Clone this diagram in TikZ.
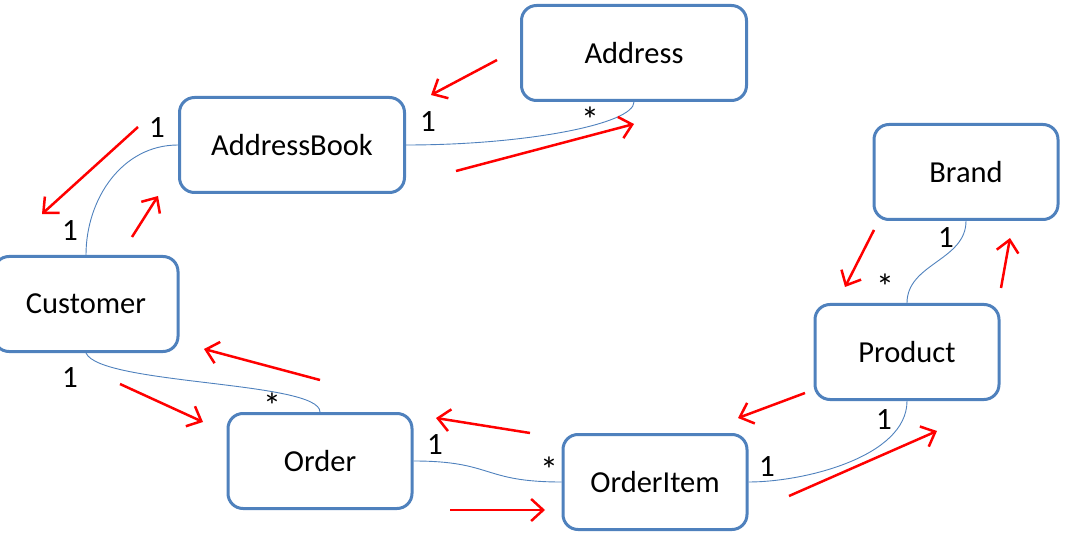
\documentclass[tikz,border=0pt]{standalone}
\usepackage{fontspec}
\setmainfont{Carlito}
\usetikzlibrary{arrows.meta}
\definecolor{boxblue}{RGB}{79,129,189}
\tikzset{
  entity/.style={draw=boxblue, line width=3pt, rounded corners=15pt, fill=white,
    minimum width=184pt, minimum height=95pt, font=\fontsize{30.5}{36}\selectfont},
  wide/.style={minimum width=225pt},
  assoc/.style={draw=boxblue, line width=0.9pt},
  mult/.style={font=\fontsize{31}{36}\selectfont, inner sep=0pt},
  star/.style={font=\fontsize{36}{40}\selectfont, inner sep=0pt},
  flow/.style={draw=red, line width=2.5pt, -{Straight Barb[length=12pt,width=22pt]}}
}
\begin{document}
\begin{tikzpicture}[x=1pt,y=1pt]
\useasboundingbox (0,0) rectangle (1069,-556);
% classes
\node[entity,wide] (address) at (634,-53) {Address};
\node[entity,wide] (addrbook) at (292,-145) {AddressBook};
\node[entity] (brand) at (966,-172) {Brand};
\node[entity] (customer) at (86,-304) {Customer};
\node[entity] (order) at (320,-461) {Order};
\node[entity] (orderitem) at (655,-482) {OrderItem};
\node[entity] (product) at (907,-352) {Product};
% associations
\draw[assoc] (addrbook.west) to[out=180,in=90] (customer.north);
\draw[assoc] (addrbook.east) .. controls +(120,0) and +(0,-22) .. (address.south);
\draw[assoc] (customer.south) .. controls +(14,-32) and +(0,31) .. (order.north);
\draw[assoc] (order.east) .. controls +(80,0) and +(-80,0) .. (orderitem.west);
\draw[assoc] (orderitem.east) to[out=0,in=-90,looseness=0.8] (product.south);
\draw[assoc] (product.north) to[out=90,in=-90] (brand.south);
% multiplicities
\node[mult] (lab1) at (157,-128) {1};
\node[mult] (lab2) at (70,-231) {1};
\node[mult] (lab3) at (428,-122) {1};
\node[star] (lab4) at (590,-120) {*};
\node[mult] (lab5) at (70,-378) {1};
\node[star] (lab6) at (272,-406) {*};
\node[mult] (lab7) at (435,-445) {1};
\node[star] (lab8) at (549,-470) {*};
\node[mult] (lab9) at (767,-467) {1};
\node[mult] (lab10) at (884,-420) {1};
\node[star] (lab11) at (885,-287) {*};
\node[mult] (lab12) at (946,-238) {1};
% red arrows
\foreach \xa/\ya/\xb/\yb in {497/60/431/95, 456/171/634/124, 138/127/42/214,
  132/237/158/196, 320/380/204/349, 120/384/203/422, 530/433/436/418,
  450/510/545/510, 805/393/738/418, 789/496/937/431, 874/230/845/287,
  1001/288/1010/238}
  \draw[flow] (\xa,-\ya) -- (\xb,-\yb);
\end{tikzpicture}
\end{document}
